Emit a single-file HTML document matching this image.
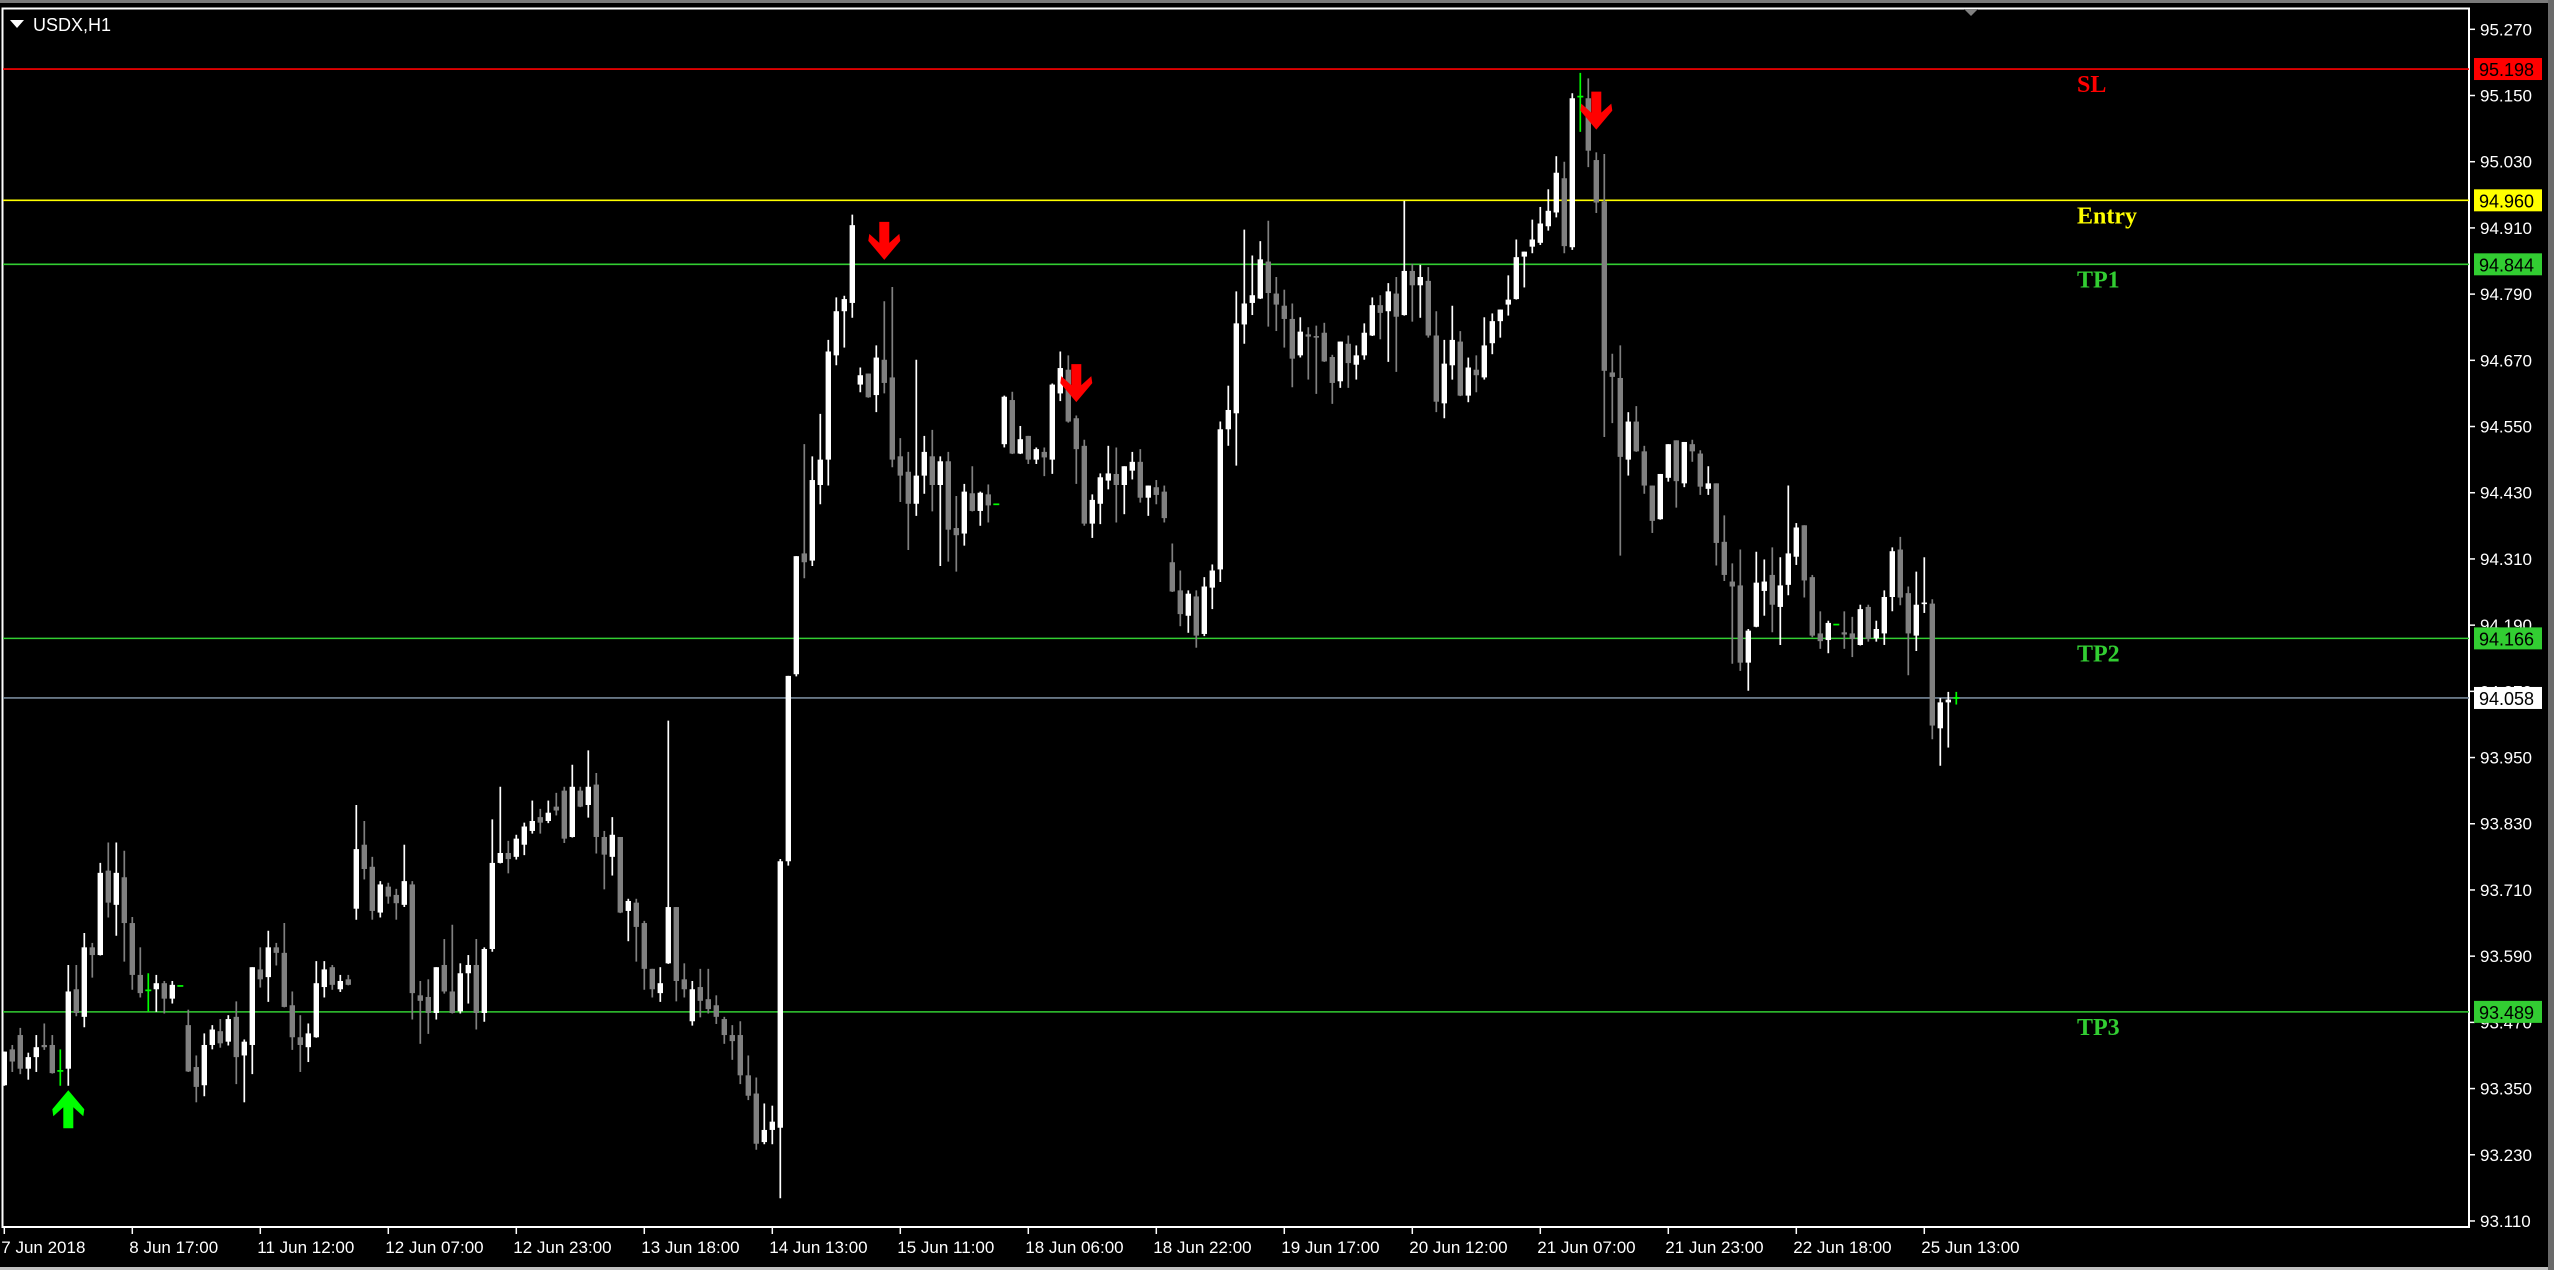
<!DOCTYPE html>
<html><head><meta charset="utf-8"><title>USDX,H1</title>
<style>
html,body{margin:0;padding:0;background:#000;}
body{width:2554px;height:1270px;overflow:hidden;position:relative;font-family:"Liberation Sans",sans-serif;}
svg{position:absolute;left:0;top:0;}
</style></head>
<body>
<svg id="chart" width="2554" height="1270" viewBox="0 0 2554 1270" xmlns="http://www.w3.org/2000/svg">
  <rect x="0" y="0" width="2554" height="1270" fill="#000"/>
  <rect x="0" y="0" width="2554" height="3" fill="#7a7a7a"/>
  <rect x="0" y="1267" width="2554" height="3" fill="#c0c0c0"/>
  <rect x="2548" y="0" width="6" height="1270" fill="#6a6a6a"/>
  <rect x="2.5" y="8.5" width="2466.5" height="1218.5" fill="none" stroke="#fff" stroke-width="2"/>
  <g id="grid"></g>
  <g id="xaxis"></g>
  <g id="levels"></g>
  <g id="candles"></g>
  <g id="arrows"></g>
  <g id="boxes"></g>
  <polygon points="1964,9 1978,9 1971,16" fill="#808080"/>
  <polygon points="10,20 24,20 17,28" fill="#fff"/>
  <text x="33" y="31" fill="#fff" font-size="18" font-family="Liberation Sans, sans-serif">USDX,H1</text>
</svg>
<script>
const openP=[93.356,93.421,93.447,93.386,93.407,93.429,93.429,93.382,93.386,93.530,
93.480,93.606,93.592,93.745,93.683,93.733,93.650,93.556,93.528,93.530,
93.541,93.513,93.536,93.465,93.389,93.356,93.429,93.454,93.435,93.480,
93.410,93.429,93.566,93.552,93.606,93.596,93.501,93.443,93.425,93.443,
93.534,93.570,93.530,93.548,93.676,93.792,93.752,93.669,93.716,93.701,
93.683,93.720,93.519,93.516,93.487,93.574,93.526,93.490,93.559,93.574,
93.487,93.603,93.759,93.777,93.770,93.792,93.817,93.842,93.835,93.861,
93.890,93.806,93.890,93.864,93.901,93.806,93.770,93.806,93.672,93.687,
93.650,93.567,93.523,93.577,93.679,93.548,93.472,93.534,93.512,93.501,
93.476,93.447,93.447,93.374,93.341,93.253,93.275,93.279,93.762,94.101,
94.320,94.307,94.444,94.490,94.679,94.759,94.774,94.626,94.646,94.607,
94.671,94.639,94.496,94.468,94.410,94.461,94.496,94.444,94.487,94.366,
94.356,94.429,94.397,94.427,94.409,94.518,94.598,94.501,94.533,94.490,
94.504,94.490,94.610,94.653,94.565,94.515,94.374,94.410,94.452,94.464,
94.444,94.470,94.486,94.421,94.440,94.432,94.304,94.253,94.207,94.242,
94.174,94.258,94.291,94.545,94.574,94.735,94.774,94.782,94.849,94.791,
94.769,94.745,94.679,94.717,94.714,94.720,94.676,94.632,94.700,94.662,
94.679,94.715,94.770,94.759,94.791,94.752,94.832,94.806,94.814,94.715,
94.592,94.661,94.704,94.606,94.653,94.639,94.701,94.741,94.771,94.781,
94.858,94.876,94.883,94.913,94.938,95.000,94.875,95.148,95.145,95.033,
94.958,94.648,94.638,94.490,94.559,94.505,94.443,94.382,94.457,94.525,
94.447,94.518,94.501,94.437,94.447,94.341,94.269,94.262,94.122,94.187,
94.252,94.281,94.223,94.263,94.314,94.371,94.277,94.175,94.163,94.191,
94.177,94.175,94.154,94.223,94.166,94.175,94.241,94.327,94.248,94.171,
94.230,94.229,94.003,94.050,94.058];
const highP=[93.417,93.429,93.460,93.415,93.447,93.468,93.447,93.421,93.574,93.574,
93.632,93.614,93.759,93.796,93.796,93.781,93.661,93.606,93.559,93.556,
93.545,93.545,93.536,93.493,93.410,93.450,93.465,93.476,93.483,93.508,
93.439,93.570,93.606,93.636,93.614,93.650,93.526,93.483,93.468,93.581,
93.581,93.574,93.556,93.556,93.864,93.835,93.770,93.726,93.723,93.712,
93.792,93.726,93.545,93.548,93.570,93.621,93.647,93.577,93.592,93.621,
93.606,93.838,93.897,93.799,93.810,93.832,93.872,93.857,93.872,93.886,
93.897,93.937,93.897,93.963,93.922,93.817,93.842,93.806,93.694,93.694,
93.654,93.567,93.570,94.017,93.679,93.577,93.545,93.567,93.567,93.519,
93.480,93.465,93.472,93.410,93.370,93.323,93.319,93.766,94.098,94.315,
94.518,94.496,94.573,94.707,94.784,94.787,94.934,94.657,94.646,94.697,
94.777,94.803,94.529,94.504,94.671,94.533,94.544,94.496,94.504,94.424,
94.446,94.478,94.432,94.445,94.409,94.606,94.613,94.551,94.533,94.512,
94.512,94.628,94.686,94.679,94.570,94.526,94.427,94.465,94.515,94.512,
94.478,94.504,94.509,94.443,94.453,94.443,94.338,94.289,94.253,94.253,
94.277,94.300,94.559,94.624,94.795,94.907,94.860,94.886,94.923,94.821,
94.798,94.773,94.748,94.730,94.733,94.738,94.680,94.704,94.715,94.697,
94.737,94.784,94.788,94.810,94.821,94.959,94.845,94.843,94.839,94.759,
94.707,94.769,94.723,94.675,94.679,94.748,94.755,94.762,94.824,94.889,
94.867,94.925,94.948,94.980,95.040,95.030,95.154,95.191,95.181,95.047,
95.044,94.682,94.697,94.576,94.587,94.515,94.443,94.464,94.518,94.525,
94.522,94.526,94.507,94.478,94.447,94.389,94.302,94.327,94.183,94.323,
94.309,94.331,94.313,94.443,94.375,94.371,94.281,94.215,94.198,94.191,
94.215,94.205,94.227,94.227,94.198,94.253,94.331,94.350,94.260,94.287,
94.313,94.237,94.058,94.069,94.069];
const lowP=[93.356,93.381,93.377,93.367,93.381,93.421,93.378,93.356,93.356,93.482,
93.462,93.552,93.592,93.661,93.628,93.581,93.530,93.516,93.490,93.490,
93.487,93.505,93.536,93.381,93.326,93.337,93.422,93.425,93.429,93.359,
93.326,93.377,93.534,93.508,93.574,93.498,93.421,93.381,93.399,93.443,
93.516,93.530,93.526,93.538,93.657,93.730,93.657,93.661,93.686,93.657,
93.680,93.476,93.432,93.450,93.476,93.523,93.487,93.487,93.505,93.458,
93.472,93.599,93.759,93.741,93.766,93.774,93.813,93.813,93.832,93.846,
93.796,93.806,93.861,93.842,93.777,93.712,93.737,93.669,93.618,93.581,
93.530,93.516,93.508,93.577,93.509,93.516,93.465,93.480,93.487,93.468,
93.432,93.403,93.359,93.330,93.240,93.250,93.250,93.152,93.755,94.098,
94.276,94.298,94.410,94.444,94.662,94.694,94.748,94.613,94.603,94.577,
94.611,94.477,94.414,94.327,94.389,94.429,94.397,94.298,94.306,94.288,
94.335,94.397,94.371,94.377,94.409,94.513,94.501,94.501,94.483,94.483,
94.461,94.465,94.597,94.558,94.447,94.371,94.349,94.374,94.437,94.377,
94.392,94.455,94.413,94.389,94.410,94.377,94.251,94.189,94.177,94.150,
94.171,94.220,94.269,94.516,94.480,94.701,94.753,94.782,94.732,94.724,
94.694,94.622,94.676,94.636,94.610,94.668,94.592,94.621,94.621,94.636,
94.672,94.715,94.709,94.668,94.650,94.752,94.741,94.748,94.712,94.577,
94.566,94.636,94.606,94.595,94.613,94.636,94.682,94.712,94.752,94.781,
94.803,94.865,94.880,94.906,94.930,94.865,94.871,95.085,95.021,94.938,
94.532,94.557,94.317,94.462,94.505,94.429,94.358,94.382,94.451,94.404,
94.441,94.487,94.427,94.427,94.299,94.271,94.121,94.108,94.072,94.187,
94.208,94.178,94.155,94.245,94.300,94.241,94.169,94.148,94.140,94.191,
94.148,94.133,94.154,94.161,94.161,94.155,94.216,94.227,94.100,94.144,
94.213,93.984,93.936,93.969,94.047];
const closeP=[93.417,93.399,93.386,93.407,93.425,93.425,93.378,93.382,93.526,93.487,
93.606,93.592,93.741,93.687,93.741,93.650,93.556,93.523,93.528,93.541,
93.513,93.538,93.536,93.381,93.353,93.429,93.457,93.432,93.476,93.407,
93.435,93.570,93.548,93.606,93.596,93.498,93.443,93.429,93.450,93.541,
93.566,93.538,93.545,93.538,93.784,93.748,93.672,93.720,93.698,93.686,
93.726,93.523,93.509,93.487,93.570,93.526,93.487,93.559,93.574,93.487,
93.603,93.759,93.777,93.766,93.803,93.825,93.835,93.832,93.850,93.854,
93.803,93.897,93.861,93.897,93.806,93.774,93.810,93.669,93.690,93.643,
93.567,93.530,93.541,93.679,93.545,93.530,93.530,93.509,93.494,93.480,
93.447,93.436,93.374,93.337,93.250,93.275,93.290,93.762,94.098,94.315,
94.304,94.453,94.490,94.686,94.759,94.781,94.915,94.643,94.603,94.675,
94.629,94.490,94.461,94.410,94.461,94.504,94.444,94.487,94.363,94.353,
94.432,94.397,94.430,94.407,94.409,94.604,94.501,94.527,94.490,94.509,
94.494,94.626,94.656,94.559,94.509,94.374,94.417,94.458,94.465,94.444,
94.478,94.486,94.421,94.443,94.426,94.384,94.251,94.210,94.247,94.171,
94.260,94.289,94.545,94.580,94.737,94.773,94.788,94.853,94.792,94.771,
94.745,94.673,94.722,94.713,94.713,94.668,94.629,94.704,94.665,94.679,
94.720,94.770,94.756,94.795,94.749,94.832,94.806,94.821,94.715,94.595,
94.664,94.707,94.606,94.657,94.643,94.697,94.741,94.762,94.780,94.857,
94.867,94.889,94.918,94.941,95.010,94.877,95.145,95.148,95.050,94.956,
94.651,94.640,94.495,94.559,94.505,94.443,94.379,94.464,94.518,94.451,
94.522,94.505,94.441,94.447,94.339,94.281,94.260,94.122,94.180,94.267,
94.269,94.227,94.262,94.320,94.367,94.271,94.171,94.161,94.194,94.191,
94.173,94.165,94.219,94.165,94.183,94.241,94.324,94.240,94.175,94.227,
94.231,94.008,94.050,94.055,94.058];
const priceTicks=[95.270,95.150,95.030,94.910,94.790,94.670,94.550,94.430,94.310,94.190,94.070,93.950,93.830,93.710,93.590,93.470,93.350,93.230,93.110];
const dateLabels=["7 Jun 2018","8 Jun 17:00","11 Jun 12:00","12 Jun 07:00","12 Jun 23:00","13 Jun 18:00","14 Jun 13:00","15 Jun 11:00","18 Jun 06:00","18 Jun 22:00","19 Jun 17:00","20 Jun 12:00","21 Jun 07:00","21 Jun 23:00","22 Jun 18:00","25 Jun 13:00"];
const dateBarIdx=[0,16,32,48,64,80,96,112,128,144,160,176,192,208,224,240];
const levelNames=["SL","Entry","TP1","TP2","TP3"];
const levelPrices=[95.198,94.960,94.844,94.166,93.489];
const levelColors=["#ff0000","#ffff00","#32cd32","#32cd32","#32cd32"];
const currentPrice=94.058;
const downArrowIdx=[110,134,199];
const downArrowPrice=[94.921,94.663,95.157];
const upArrowIdx=[8];
const upArrowPrice=[93.347];

const NS="http://www.w3.org/2000/svg";
const X0=4.3, STEP=8, PTOP=95.270, YTOP=29.3, PXPER=551.7;
function xS(i){return X0+STEP*i;}
function yS(p){return YTOP+(PTOP-p)*PXPER;}
function mk(tag,attrs,parent){const e=document.createElementNS(NS,tag);for(const k in attrs)e.setAttribute(k,attrs[k]);parent.appendChild(e);return e;}

const grid=document.getElementById('grid');
priceTicks.forEach(p=>{
  const y=yS(p);
  const t=mk('line',{x1:2469,x2:2475,y1:y,y2:y,stroke:'#fff','stroke-width':1.5},grid);
  
  
  const tx=mk('text',{x:2480,y:y+6,fill:'#fff','font-size':17,'font-family':'Liberation Sans, sans-serif'},grid);
  tx.textContent=p.toFixed(3);
  
  
});

const xa=document.getElementById('xaxis');
dateLabels.forEach((lab,k)=>{
  const x=xS(dateBarIdx[k]);
  const t=mk('line',{x1:x,x2:x,y1:1227,y2:1234,stroke:'#fff','stroke-width':1.5},xa);
  
  
  const tx=mk('text',{x:x-3,y:1253,fill:'#fff','font-size':17,'font-family':'Liberation Sans, sans-serif'},xa);
  tx.textContent=lab;
  
  
});

const lv=document.getElementById('levels');
levelPrices.forEach((p,k)=>{
  const y=yS(p);
  const l=mk('line',{x1:3,x2:2469,y1:y,y2:y,stroke:levelColors[k],'stroke-width':1.6},lv);
  
  
  const tx=mk('text',{x:2077,y:y+23,fill:levelColors[k],'font-size':24,'font-weight':'bold','font-family':'Liberation Serif, serif'},lv);
  tx.textContent=levelNames[k];
  
  
});
const cl=mk('line',{x1:3,x2:2469,y1:yS(currentPrice),y2:yS(currentPrice),stroke:'#778899','stroke-width':1.6},lv);



const cg=document.getElementById('candles');
for(let i=0;i<closeP.length;i++){
  const o=openP[i],h=highP[i],l=lowP[i],c=closeP[i];
  const x=xS(i);
  let col=c>o?'#ffffff':'#808080';
  if(o===c) col='#00ff00';
  const g=mk('g',{},cg);
  
  
  const w=mk('line',{x1:x,x2:x,y1:yS(h),y2:yS(l)+0.5,stroke:col,'stroke-width':1.7},g);
  
  
  if(o===c){
    const d=mk('line',{x1:x-3,x2:x+3,y1:yS(c),y2:yS(c),stroke:col,'stroke-width':1.7},g);
    
    
  } else {
    const yt=Math.min(yS(o),yS(c)), yb=Math.max(yS(o),yS(c));
    const b=mk('rect',{x:x-2.7,y:yt,width:5.4,height:Math.max(1.6,yb-yt),fill:col},g);
    
    
  }
}

const ag=document.getElementById('arrows');
downArrowIdx.forEach((idx,k)=>{
  const cx=xS(idx), t=yS(downArrowPrice[k]);
  const pts=[[-5,0],[5,0],[5,21],[15,12],[16,19],[0,38],[-16,19],[-15,12],[-5,21]].map(p=>(cx+p[0])+','+(t+p[1])).join(' ');
  const a=mk('polygon',{points:pts,fill:'#ff0000'},ag);
  
  
});
upArrowIdx.forEach((idx,k)=>{
  const cx=xS(idx), t=yS(upArrowPrice[k]);
  const pts=[[-5,38],[5,38],[5,17],[15,26],[16,19],[0,0],[-16,19],[-15,26],[-5,17]].map(p=>(cx+p[0])+','+(t+p[1])).join(' ');
  const a=mk('polygon',{points:pts,fill:'#00ff00'},ag);
  
  
});

const bx=document.getElementById('boxes');
function priceBox(p,bg,name){
  const y=yS(p);
  const r=mk('rect',{x:2474,y:y-11,width:68,height:22,fill:bg},bx);
  
  
  const tx=mk('text',{x:2479,y:y+7,fill:'#000','font-size':18,'font-family':'Liberation Sans, sans-serif'},bx);
  tx.textContent=p.toFixed(3);
  
  
}
levelPrices.forEach((p,k)=>priceBox(p,levelColors[k],'level-price-'+levelNames[k].toLowerCase()));
priceBox(currentPrice,'#ffffff','current-price');
</script>
</body></html>
